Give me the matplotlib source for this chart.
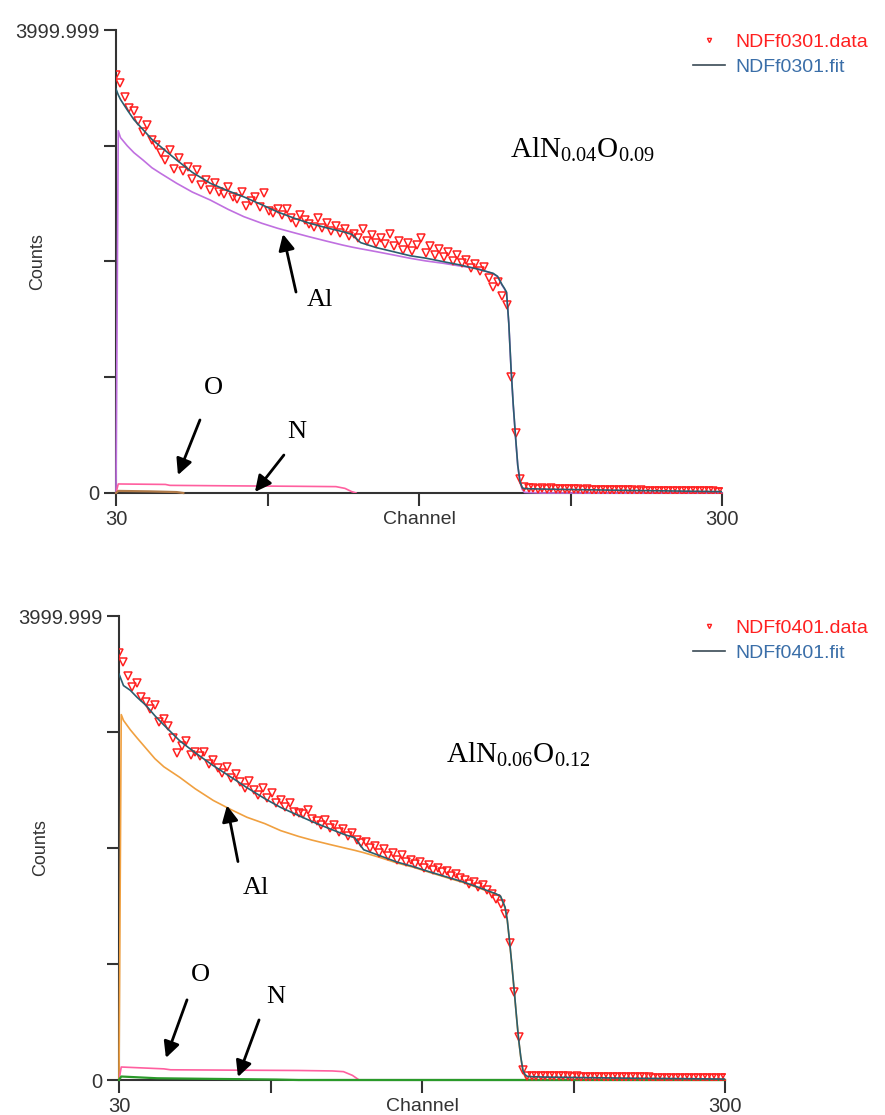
import numpy as np
import matplotlib
matplotlib.use("Agg")
import matplotlib.pyplot as plt
from matplotlib.lines import Line2D

plt.rcParams['font.family'] = ['Liberation Sans', 'DejaVu Sans']
plt.rcParams['mathtext.fontset'] = 'custom'
plt.rcParams['mathtext.rm'] = 'Liberation Serif'
plt.rcParams['mathtext.it'] = 'Liberation Serif:italic'

# channel grid of the measured spectra (every 2nd channel)
data_ch = np.arange(30, 301, 2)

# tail after the Al edge, channels 214..300
tail_top = [42, 45, 38, 40, 36, 39, 35, 37, 33, 35, 31, 33, 30, 31, 28, 30, 27, 28, 25, 27,
            24, 25, 22, 24, 21, 22, 20, 21, 19, 20, 18, 19, 17, 17, 16, 16, 15, 15, 14, 14,
            13, 13, 12, 12]
tail_bot = [36, 34, 37, 33, 35, 32, 34, 31, 32, 30, 31, 29, 30, 28, 29, 27, 28, 26, 27, 25,
            25, 24, 24, 23, 23, 22, 22, 21, 21, 20, 20, 19, 19, 18, 18, 17, 17, 16, 16, 15,
            15, 14, 14, 13]

# NDFf0301 measured counts, channels 30..212
data_top = [3610, 3540, 3420, 3330, 3300, 3210, 3120, 3180, 3050, 3010,
            2940, 2880, 2960, 2800, 2890, 2780, 2820, 2710, 2790, 2660,
            2700, 2620, 2680, 2600, 2580, 2640, 2560, 2540, 2600, 2480,
            2520, 2560, 2470, 2590, 2440, 2420, 2450, 2400, 2450, 2380,
            2330, 2400, 2360, 2320, 2300, 2380, 2290, 2330, 2260, 2310,
            2250, 2280, 2220, 2240, 2200, 2280, 2180, 2230, 2160, 2200,
            2150, 2240, 2130, 2180, 2100, 2160, 2090, 2140, 2200, 2070,
            2130, 2060, 2110, 2040, 2080, 2000, 2060, 1990, 2010, 1940,
            1980, 1920, 1950, 1860, 1780, 1820, 1700, 1620, 1000, 520,
            120, 48] + tail_top

# NDFf0401 measured counts, channels 30..212
data_bot = [3680, 3600, 3480, 3390, 3420, 3300, 3260, 3200, 3230, 3090,
            3110, 3050, 2950, 2820, 2880, 2920, 2800, 2830, 2790, 2830,
            2720, 2760, 2690, 2650, 2700, 2600, 2640, 2570, 2520, 2580,
            2500, 2460, 2520, 2430, 2470, 2390, 2410, 2350, 2390, 2310,
            2300, 2290, 2330, 2250, 2230, 2200, 2240, 2170, 2200, 2140,
            2160, 2100, 2130, 2070, 2040, 2050, 2000, 2020, 1960, 1990,
            1930, 1960, 1900, 1940, 1880, 1900, 1860, 1880, 1830, 1850,
            1810, 1830, 1790, 1800, 1760, 1780, 1740, 1720, 1690, 1710,
            1660, 1680, 1640, 1600, 1560, 1520, 1430, 1180, 760, 370,
            90, 38] + tail_bot

# simulated curves
curve_ch = [30, 31, 32, 35, 38, 42, 46, 50, 57, 64, 72, 80, 87, 95, 102, 110, 116, 124, 131, 135,
            139, 146, 154, 161, 168, 176, 183, 191, 198, 200, 202, 203, 204, 205, 206, 207, 208,
            209, 210, 211, 212, 220, 240, 260, 280, 300]

fit_top = [3490, 3440, 3400, 3310, 3225, 3140, 3055, 2990, 2877, 2770, 2676, 2610, 2558, 2490,
           2428, 2370, 2332, 2290, 2258, 2235, 2163, 2120, 2083, 2050, 2029, 1998, 1971, 1935,
           1898, 1872, 1800, 1770, 1735, 1470, 1080, 760, 490, 240, 100, 45, 38, 34, 28, 22, 17, 12]
al_top = [0, 3130, 3070, 3000, 2940, 2877, 2810, 2760, 2676, 2600, 2531, 2450, 2387, 2330,
          2287, 2245, 2214, 2175, 2142, 2125, 2110, 2085, 2055, 2028, 2005, 1984, 1962, 1940,
          1895, 1868, 1795, 1765, 1730, 1465, 1075, 755, 485, 235, 95, 30, 5, 0, 0, 0, 0, 0]

fit_bot = [3500, 3450, 3400, 3360, 3300, 3230, 3140, 3060, 2925, 2820, 2710, 2610, 2520, 2425,
           2350, 2280, 2228, 2165, 2112, 2090, 1985, 1935, 1878, 1840, 1797, 1750, 1710, 1655,
           1605, 1585, 1490, 1380, 1200, 1000, 790, 570, 360, 200, 80, 45, 30, 25, 20, 15, 12, 8]
al_bot = [0, 3150, 3100, 3020, 2950, 2860, 2770, 2700, 2610, 2510, 2410, 2330, 2265, 2210,
          2150, 2100, 2068, 2030, 1998, 1980, 1960, 1920, 1870, 1835, 1792, 1745, 1705, 1650,
          1600, 1580, 1485, 1375, 1195, 995, 785, 565, 355, 195, 75, 25, 5, 0, 0, 0, 0, 0]

o_ch_top = [30, 31, 52, 54, 80, 110, 128, 132, 135, 137]
o_top = [0, 78, 74, 66, 62, 58, 55, 40, 12, 0]
n_ch_top = [30, 31, 45, 57, 60]
n_top = [0, 18, 14, 8, 0]

o_ch_bot = [30, 31, 50, 53, 80, 110, 125, 130, 134, 137]
o_bot = [0, 112, 96, 88, 85, 82, 78, 72, 40, 0]
n_ch_bot = [30, 31, 47, 70, 100, 110, 300]
n_bot = [0, 30, 15, 10, 4, 0, 0]

x_ticks = [30, 97.5, 165, 232.5, 300]
x_ticklabels = ["30", "", "", "", "300"]
y_ticks = [0, 1000, 2000, 3000, 3999.999]
y_ticklabels = ["0", "", "", "", "3999.999"]

DARK = '#333333'
RED = '#ff2020'


def draw_panel(ax, data, fit, al, o_ch, o, n_ch, n, al_color, n_color, name, formula,
               formula_pos, labels, legend_top):
    ax.plot(curve_ch, al, color=al_color, lw=1.2, zorder=3, clip_on=False)
    ax.plot(o_ch, o, color='#ff5f9f', lw=1.2, zorder=3)
    ax.plot(n_ch, n, color=n_color, lw=1.6, zorder=3, clip_on=False)
    ax.plot(data_ch, data, ls='none', marker='v', ms=5.5, mfc='none', mec=RED, mew=1.1, zorder=4)
    ax.plot(curve_ch, fit, color='#2a5e6e', lw=1.2, zorder=5)

    ax.set_xlim(30, 300)
    ax.set_ylim(0, 3999.999)
    ax.set_xticks(x_ticks)
    ax.set_xticklabels(x_ticklabels)
    ax.set_yticks(y_ticks)
    ax.set_yticklabels(y_ticklabels)
    for s in ['top', 'right']:
        ax.spines[s].set_visible(False)
    for s in ['left', 'bottom']:
        ax.spines[s].set_color(DARK)
        ax.spines[s].set_linewidth(1.5)
    ax.tick_params(direction='out', length=9, width=1.5, color=DARK, labelcolor=DARK,
                   labelsize=14.5, pad=3)
    ax.annotate('Channel', xy=(0.5, 0), xycoords='axes fraction', xytext=(0, -13),
                textcoords='offset points', ha='center', va='top', fontsize=14, color=DARK)
    ax.text(-0.129, 0.5, 'Counts', transform=ax.transAxes, rotation=90, ha='center',
            va='center', fontsize=13, color=DARK)

    handles = [Line2D([], [], ls='none', marker='v', ms=3, mfc='none', mec=RED),
               Line2D([], [], color='#3a4a55', lw=1.2)]
    leg = fig.legend(handles, [name + '.data', name + '.fit'], loc='upper left',
                     bbox_to_anchor=(693 / 885, 1 - legend_top / 1115),
                     bbox_transform=fig.transFigure, frameon=False, fontsize=14,
                     handlelength=1.65, handletextpad=0.55, labelspacing=0.4,
                     borderaxespad=0, borderpad=0)
    leg.get_texts()[0].set_color('#ff2020')
    leg.get_texts()[1].set_color('#3a6ea8')

    ax.text(formula_pos[0], formula_pos[1], formula, fontsize=21, ha='left', va='center',
            color='black')
    for lab, txt_xy, tail, head in labels:
        ax.text(txt_xy[0], txt_xy[1], lab, family='Liberation Serif', fontsize=19,
                ha='center', va='center', color='black')
        ax.annotate('', xy=head, xytext=tail,
                    arrowprops=dict(arrowstyle='-|>', lw=2.0, color='black',
                                    mutation_scale=24, shrinkA=0, shrinkB=0))


fig = plt.figure(figsize=(8.85, 11.15), dpi=100)
ax1 = fig.add_axes([116 / 885, 1 - 493 / 1115, 606 / 885, 463 / 1115])
ax2 = fig.add_axes([119 / 885, 1 - 1080 / 1115, 606 / 885, 464 / 1115])

draw_panel(ax1, data_top, fit_top, al_top, o_ch_top, o_top, n_ch_top, n_top,
           '#c070e0', '#b07a48', 'NDFf0301', r'$\mathrm{AlN_{0.04}O_{0.09}}$', (205.5, 2963),
           [('Al', (120.9, 1667), (110.2, 1736), (104.4, 2237)),
            ('O', (73.2, 907), (67.4, 631), (57.6, 155)),
            ('N', (110.6, 527), (104.8, 328), (91.9, 9))], 33)

draw_panel(ax2, data_bot, fit_bot, al_bot, o_ch_bot, o_bot, n_ch_bot, n_bot,
           '#f0a040', '#2a9a2a', 'NDFf0401', r'$\mathrm{AlN_{0.06}O_{0.12}}$', (175.7, 2799),
           [('Al', (91.0, 1659), (83.0, 1883), (78.1, 2367)),
            ('O', (66.5, 907), (60.3, 691), (50.9, 190)),
            ('N', (100.0, 717), (92.4, 518), (83.0, 26))], 619)

fig.savefig('out.png', dpi=100)
